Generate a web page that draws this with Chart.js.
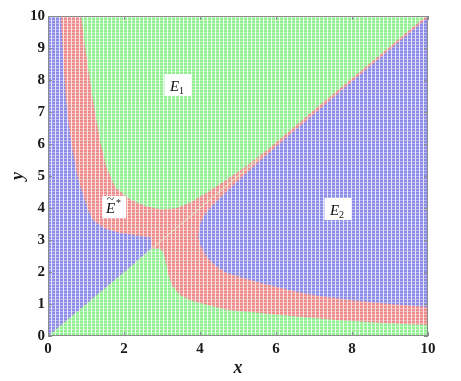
<!DOCTYPE html>
<html>
<head>
<meta charset="utf-8">
<script src="https://cdn.jsdelivr.net/npm/chart.js@4.4.1/dist/chart.umd.min.js"></script>
<style>
  html, body { margin: 0; padding: 0; background: #fff; }
</style>
</head>
<body>
<canvas id="regions" width="461" height="381"></canvas>
<script>
// region outlines, in data units [x, y]
const plotBox = [[0, 0], [10, 0], [10, 10], [0, 10]];

const greenLow = [
  [0, 0], [2.72, 2.72], [2.95, 2.73], [3.05, 2.6], [3.1, 2.3], [3.15, 2.0],
  [3.25, 1.6], [3.47, 1.28], [3.75, 1.12], [4.0, 1.03], [4.7, 0.82],
  [5.6, 0.72], [6.6, 0.6], [7.6, 0.5], [8.5, 0.43], [9.5, 0.37],
  [10, 0.34], [10, 0]
];

const blueLeft = [
  [0, 0], [0, 10], [0.34, 10], [0.4, 8.6], [0.47, 7.4], [0.6, 6.1],
  [0.79, 4.9], [1.05, 3.95], [1.2, 3.6], [1.5, 3.35], [1.9, 3.22],
  [2.3, 3.15], [2.7, 3.08], [2.72, 2.72]
];

const greenTop = [
  [0.87, 10], [1.0, 8.8], [1.18, 7.4], [1.37, 6.1], [1.53, 5.3],
  [1.76, 4.66], [2.18, 4.25], [2.6, 4.05], [3.0, 3.95], [3.4, 4.0],
  [3.8, 4.2], [4.2, 4.5], [4.7, 4.88], [5.2, 5.3], [5.8, 5.84],
  [7, 7.06], [8.5, 8.55], [10, 10.05], [10, 10]
];

const blueRight = [
  [3.95, 3.09], [4.0, 3.5], [4.1, 3.75], [4.3, 4.05], [4.6, 4.4],
  [5.0, 4.85], [5.6, 5.5], [6.5, 6.43], [8, 7.95], [10, 9.96],
  [10, 0.91], [9, 1.0], [8, 1.12], [7, 1.27], [6.6, 1.37], [5.6, 1.66],
  [4.7, 1.97], [4.4, 2.2], [4.18, 2.47], [4.0, 2.85]
];

const diagonalSeam = [[2.3, 2.3], [5.6, 5.6]];

const xTicks = [0, 2, 4, 6, 8, 10];
const yTicks = [0, 1, 2, 3, 4, 5, 6, 7, 8, 9, 10];

// region names and where their boxes sit (data units)
const regionNames = ["E1", "E*", "E2"];
const nameX = [3.42, 1.74, 7.63];
const nameY = [7.84, 4.03, 3.97];

const SERIF = "'Liberation Serif', 'DejaVu Serif', serif";

// small dotted texture like the sampled grid in the picture
function dotPattern(dot, mid, gap) {
  const c = document.createElement("canvas");
  c.width = 4;
  c.height = 3;
  const g = c.getContext("2d");
  g.fillStyle = mid;
  g.fillRect(0, 0, 4, 3);
  g.fillStyle = dot;
  g.fillRect(0, 0, 3, 2);
  g.fillStyle = gap;
  g.fillRect(3, 0, 1, 3);
  return g.createPattern(c, "repeat");
}

const greenFill = dotPattern("rgb(145,238,145)", "rgb(192,246,192)", "rgb(236,252,236)");
const blueFill = dotPattern("rgb(140,140,232)", "rgb(182,182,240)", "rgb(230,230,250)");
const redFill = dotPattern("rgb(237,140,140)", "rgb(244,184,184)", "rgb(251,228,228)");

function toPoints(pairs) {
  return pairs.map(([x, y]) => ({ x, y }));
}

function regionSet(pairs, fill, order) {
  return {
    data: toPoints(pairs),
    showLine: true,
    fill: "shape",
    backgroundColor: fill,
    borderWidth: 0,
    borderColor: "rgba(0,0,0,0)",
    pointRadius: 0,
    tension: 0,
    order,
  };
}

// frame, inward tick marks and region name boxes
const framePlugin = {
  id: "frame",
  afterDatasetsDraw(chart) {
    const { ctx, chartArea: a, scales } = chart;
    const xs = scales.x, ys = scales.y;
    ctx.save();
    ctx.strokeStyle = "#8c8c8c";
    ctx.lineWidth = 1;
    ctx.strokeRect(a.left + 0.5, a.top + 0.5, a.right - a.left - 1, a.bottom - a.top - 1);
    ctx.beginPath();
    xTicks.forEach((v) => {
      const px = Math.round(xs.getPixelForValue(v)) + 0.5;
      ctx.moveTo(px, a.bottom);
      ctx.lineTo(px, a.bottom - 4);
      ctx.moveTo(px, a.top);
      ctx.lineTo(px, a.top + 4);
    });
    yTicks.forEach((v) => {
      const py = Math.round(ys.getPixelForValue(v)) + 0.5;
      ctx.moveTo(a.left, py);
      ctx.lineTo(a.left + 4, py);
      ctx.moveTo(a.right, py);
      ctx.lineTo(a.right - 4, py);
    });
    ctx.stroke();

    regionNames.forEach((name, i) => {
      const cx = xs.getPixelForValue(nameX[i]);
      const cy = ys.getPixelForValue(nameY[i]);
      const w = name === "E*" ? 24 : 27;
      const h = 22;
      ctx.fillStyle = "#ffffff";
      ctx.fillRect(cx - w / 2, cy - h / 2, w, h);
      ctx.fillStyle = "#111";
      ctx.textBaseline = "alphabetic";
      ctx.textAlign = "left";
      ctx.font = "italic 15px " + SERIF;
      const ex = cx - 8;
      const ey = cy + 6;
      ctx.fillText("E", ex, ey);
      ctx.font = "10px " + SERIF;
      if (name === "E*") {
        ctx.fillText("*", ex + 10, ey - 7);
        ctx.font = "13px " + SERIF;
        ctx.fillText("~", ex + 1, ey - 10);
      } else {
        ctx.fillText(name.slice(1), ex + 9, ey + 3);
      }
    });
    ctx.restore();
  },
};

new Chart(document.getElementById("regions").getContext("2d"), {
  type: "scatter",
  data: {
    datasets: [
      regionSet(plotBox, redFill, 10),
      regionSet(greenLow, greenFill, 9),
      regionSet(blueLeft, blueFill, 8),
      regionSet(greenTop, greenFill, 7),
      regionSet(blueRight, blueFill, 6),
      {
        data: toPoints(diagonalSeam),
        showLine: true,
        fill: false,
        borderColor: "rgba(215,240,190,0.9)",
        borderWidth: 1,
        pointRadius: 0,
        order: 1,
      },
    ],
  },
  options: {
    responsive: false,
    animation: false,
    devicePixelRatio: 1,
    layout: { padding: { top: 16, right: 33, left: 0, bottom: 0 } },
    plugins: {
      legend: { display: false },
      tooltip: { enabled: false },
    },
    scales: {
      x: {
        type: "linear",
        min: 0,
        max: 10,
        afterBuildTicks(scale) {
          scale.ticks = xTicks.map((v) => ({ value: v }));
        },
        afterFit(scale) { scale.height = 45; },
        ticks: {
          color: "#1a1a1a",
          padding: 4,
          maxRotation: 0,
          font: { family: SERIF, weight: "bold", size: 15 },
        },
        grid: { display: false, drawTicks: false },
        border: { display: false },
        title: {
          display: true,
          text: "x",
          color: "#1a1a1a",
          padding: { top: 0, bottom: 2 },
          font: { family: SERIF, weight: "bold", style: "italic", size: 18 },
        },
      },
      y: {
        type: "linear",
        min: 0,
        max: 10,
        afterBuildTicks(scale) {
          scale.ticks = yTicks.map((v) => ({ value: v }));
        },
        afterFit(scale) { scale.width = 48; },
        ticks: {
          color: "#1a1a1a",
          padding: 3,
          font: { family: SERIF, weight: "bold", size: 15 },
        },
        grid: { display: false, drawTicks: false },
        border: { display: false },
        title: {
          display: true,
          text: "y",
          color: "#1a1a1a",
          padding: { top: 8, bottom: 0 },
          font: { family: SERIF, weight: "bold", style: "italic", size: 18 },
        },
      },
    },
  },
  plugins: [framePlugin],
});
</script>
</body>
</html>
